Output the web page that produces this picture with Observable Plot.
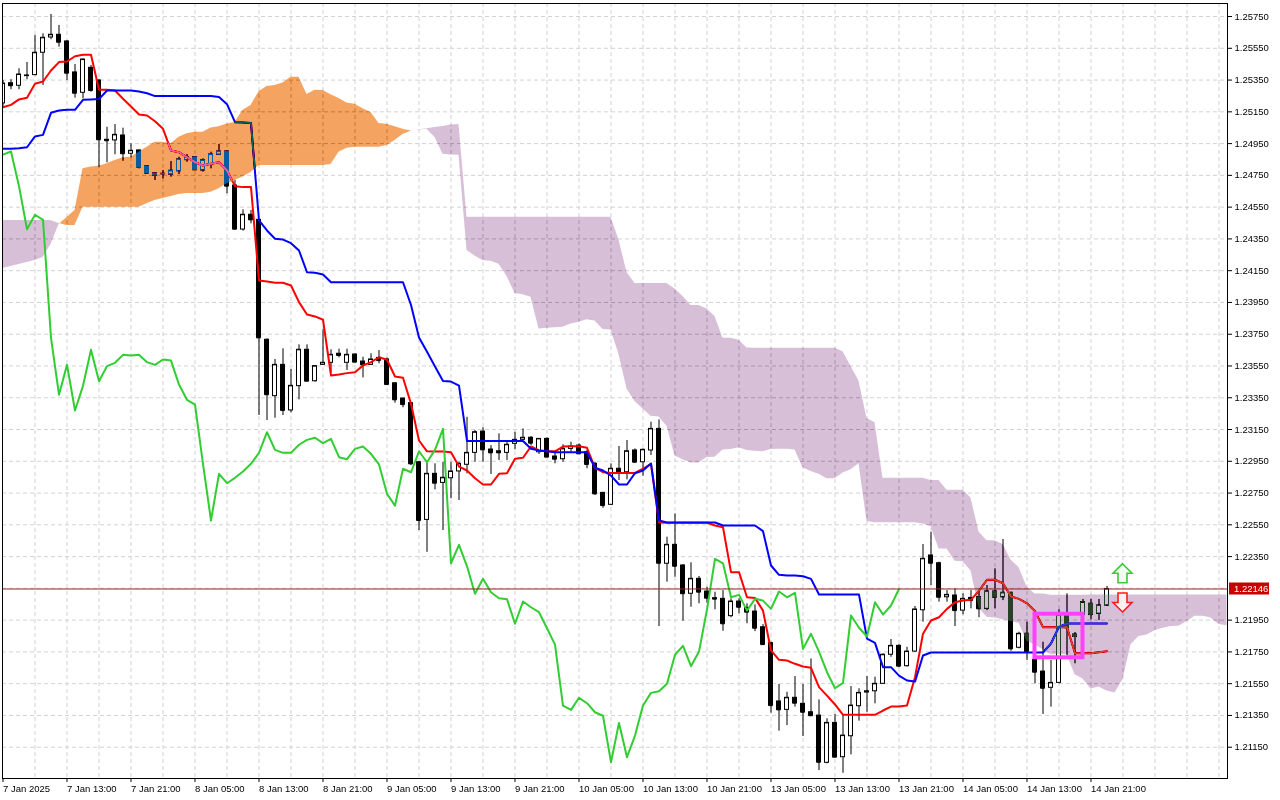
<!DOCTYPE html>
<html><head><meta charset="utf-8">
<script src="https://cdn.jsdelivr.net/npm/d3@7"></script>
<script src="https://cdn.jsdelivr.net/npm/@observablehq/plot@0.6"></script>
<style>html,body{margin:0;padding:0;background:#fff;}#chart{width:1280px;height:800px;}</style>
</head><body><div id="chart"></div>
<script>
// GBPUSD-like H1 candles, bar index 0 = 7 Jan 2025 05:00
const opens = [1.25203,1.25330,1.25314,1.25375,1.25381,1.25522,1.25618,1.25635,1.25593,1.25398,1.25270,1.25427,1.25347,1.24974,1.24970,1.25001,1.24886,1.24907,1.24806,1.24749,1.24758,1.24755,1.24776,1.24846,1.24863,1.24781,1.24819,1.24880,1.24900,1.24686,1.24409,1.24502,1.24470,1.23715,1.23360,1.23557,1.23270,1.23423,1.23652,1.23454,1.23557,1.23570,1.23627,1.23570,1.23622,1.23578,1.23557,1.23601,1.23591,1.23441,1.23345,1.23316,1.22944,1.22581,1.22871,1.22814,1.22843,1.22886,1.22928,1.23003,1.23137,1.23024,1.23013,1.23003,1.23060,1.23085,1.23098,1.23007,1.23091,1.22980,1.22963,1.23028,1.23049,1.23007,1.22934,1.22751,1.22676,1.22903,1.22881,1.23018,1.22944,1.23018,1.23154,1.22305,1.22424,1.22294,1.22116,1.22210,1.22130,1.22088,1.22084,1.21975,1.22067,1.22027,1.22004,1.21905,1.21805,1.21438,1.21385,1.21461,1.21423,1.21370,1.21349,1.21052,1.21303,1.21087,1.21219,1.21408,1.21494,1.21502,1.21549,1.21732,1.21788,1.21660,1.21752,1.22012,1.22357,1.22308,1.22094,1.22105,1.22010,1.22090,1.22094,1.22021,1.22130,1.22094,1.22122,1.21776,1.21864,1.21700,1.21626,1.21524,1.21555,1.21975,1.21859,1.21985,1.22053,1.21990,1.22042];
const highs = [1.25347,1.25352,1.25421,1.25461,1.25631,1.25641,1.25763,1.25694,1.25599,1.25448,1.25484,1.25442,1.25354,1.25053,1.25070,1.25047,1.24949,1.24910,1.24809,1.24764,1.24781,1.24837,1.24864,1.24881,1.24869,1.24854,1.24896,1.24944,1.24903,1.24718,1.24533,1.24529,1.24474,1.23721,1.23591,1.23658,1.23528,1.23683,1.23683,1.23553,1.23778,1.23652,1.23656,1.23656,1.23627,1.23605,1.23627,1.23647,1.23601,1.23443,1.23347,1.23317,1.22945,1.22938,1.22934,1.22944,1.22944,1.22944,1.23227,1.23144,1.23161,1.23049,1.23123,1.23070,1.23133,1.23154,1.23106,1.23091,1.23098,1.23007,1.23054,1.23070,1.23060,1.23018,1.22944,1.22755,1.22934,1.23043,1.23081,1.23028,1.23028,1.23196,1.23211,1.22472,1.22619,1.22300,1.22311,1.22225,1.22157,1.22126,1.22136,1.22084,1.22084,1.22053,1.22046,1.21922,1.21811,1.21545,1.21496,1.21595,1.21545,1.21706,1.21448,1.21329,1.21356,1.21356,1.21532,1.21518,1.21595,1.21591,1.21738,1.21828,1.21796,1.21779,1.22036,1.22426,1.22503,1.22315,1.22136,1.22147,1.22116,1.22136,1.22136,1.22168,1.22273,1.22458,1.22126,1.21874,1.21937,1.21738,1.21811,1.21696,1.22015,1.22116,1.21872,1.22080,1.22080,1.22080,1.22162];
const lows = [1.25184,1.25289,1.25289,1.25352,1.25377,1.25316,1.25604,1.25557,1.25347,1.25236,1.25232,1.25274,1.24802,1.24829,1.24880,1.24839,1.24861,1.24791,1.24762,1.24718,1.24728,1.24739,1.24755,1.24833,1.24781,1.24770,1.24791,1.24875,1.24634,1.24407,1.24399,1.24445,1.23238,1.23207,1.23221,1.23238,1.23255,1.23337,1.23452,1.23448,1.23553,1.23509,1.23601,1.23521,1.23574,1.23475,1.23553,1.23564,1.23427,1.23316,1.23287,1.22923,1.22514,1.22377,1.22770,1.22514,1.22714,1.22703,1.22871,1.22944,1.22944,1.22867,1.22955,1.22955,1.23022,1.23081,1.23049,1.22993,1.22976,1.22934,1.22944,1.23007,1.22993,1.22903,1.22735,1.22654,1.22671,1.22829,1.22833,1.22938,1.22856,1.22986,1.21910,1.22189,1.22220,1.21943,1.22031,1.22053,1.22056,1.22015,1.21880,1.21965,1.21990,1.21927,1.21878,1.21790,1.21364,1.21251,1.21286,1.21402,1.21217,1.21348,1.21003,1.21045,1.21087,1.20986,1.21102,1.21314,1.21370,1.21423,1.21545,1.21716,1.21650,1.21654,1.21748,1.21937,1.22168,1.22063,1.22063,1.21910,1.21983,1.22021,1.21965,1.22010,1.22021,1.22073,1.21754,1.21769,1.21696,1.21549,1.21356,1.21402,1.21549,1.21727,1.21675,1.21948,1.21952,1.21948,1.22036];
const closes = [1.25328,1.25314,1.25385,1.25379,1.25522,1.25616,1.25635,1.25588,1.25393,1.25267,1.25479,1.25284,1.24974,1.24968,1.25005,1.24886,1.24905,1.24802,1.24764,1.24762,1.24760,1.24779,1.24850,1.24863,1.24785,1.24844,1.24881,1.24900,1.24682,1.24411,1.24502,1.24470,1.23727,1.23369,1.23557,1.23270,1.23425,1.23652,1.23454,1.23549,1.23570,1.23620,1.23616,1.23620,1.23574,1.23557,1.23591,1.23584,1.23433,1.23337,1.23307,1.22934,1.22577,1.22871,1.22812,1.22846,1.22886,1.22934,1.23003,1.23133,1.23022,1.23003,1.23003,1.23054,1.23085,1.23098,1.23064,1.23091,1.22976,1.22963,1.23028,1.23043,1.22997,1.22930,1.22745,1.22671,1.22903,1.22881,1.23013,1.22944,1.23022,1.23154,1.22308,1.22424,1.22289,1.22116,1.22210,1.22126,1.22088,1.22082,1.21927,1.22067,1.22031,1.22000,1.21899,1.21796,1.21412,1.21385,1.21461,1.21427,1.21370,1.21348,1.21055,1.21303,1.21087,1.21223,1.21412,1.21492,1.21502,1.21549,1.21732,1.21788,1.21660,1.21752,1.22017,1.22336,1.22308,1.22094,1.22109,1.22010,1.22084,1.22073,1.22021,1.22130,1.22094,1.22122,1.21769,1.21864,1.21752,1.21622,1.21521,1.21555,1.21979,1.21902,1.21847,1.22063,1.21985,1.22042,1.22146];

// Ichimoku lines
const tenkan = [1.25179,1.25194,1.25228,1.25238,1.25327,1.25341,1.25410,1.25463,1.25467,1.25500,1.25509,1.25509,1.25289,1.25289,1.25284,1.25232,1.25184,1.25133,1.25127,1.25091,1.25043,1.24907,1.24896,1.24864,1.24833,1.24812,1.24823,1.24833,1.24781,1.24682,1.24676,1.24676,1.24088,1.24082,1.24074,1.24074,1.24057,1.23952,1.23874,1.23862,1.23841,1.23490,1.23496,1.23505,1.23511,1.23553,1.23574,1.23605,1.23589,1.23484,1.23476,1.23312,1.23081,1.23013,1.23012,1.23012,1.23007,1.22917,1.22892,1.22843,1.22804,1.22804,1.22871,1.22875,1.22966,1.22972,1.23043,1.23018,1.23013,1.23013,1.23043,1.23045,1.23045,1.23035,1.22909,1.22881,1.22877,1.22877,1.22877,1.22877,1.22903,1.22934,1.22565,1.22563,1.22563,1.22563,1.22563,1.22563,1.22563,1.22546,1.22535,1.22252,1.22252,1.22094,1.22090,1.22010,1.21759,1.21700,1.21696,1.21675,1.21658,1.21650,1.21528,1.21475,1.21419,1.21354,1.21354,1.21354,1.21354,1.21354,1.21381,1.21406,1.21406,1.21412,1.21591,1.21864,1.21948,1.21968,1.22021,1.22062,1.22073,1.22078,1.22136,1.22204,1.22204,1.22182,1.22099,1.22084,1.22056,1.22006,1.21905,1.21905,1.21905,1.21905,1.21742,1.21742,1.21742,1.21748,1.21754];
const kijun = [1.24917,1.24917,1.24921,1.24927,1.24995,1.25005,1.25144,1.25158,1.25163,1.25163,1.25226,1.25228,1.25230,1.25284,1.25284,1.25284,1.25284,1.25278,1.25267,1.25249,1.25249,1.25249,1.25249,1.25249,1.25249,1.25249,1.25249,1.25243,1.25198,1.25085,1.25083,1.25079,1.24466,1.24403,1.24351,1.24346,1.24323,1.24277,1.24140,1.24137,1.24126,1.24077,1.24077,1.24077,1.24077,1.24077,1.24077,1.24077,1.24077,1.24077,1.24077,1.23934,1.23729,1.23639,1.23547,1.23455,1.23452,1.23426,1.23078,1.23078,1.23078,1.23078,1.23078,1.23078,1.23078,1.23078,1.23029,1.23018,1.23013,1.23007,1.23007,1.23007,1.23007,1.23007,1.22909,1.22892,1.22860,1.22804,1.22804,1.22875,1.22892,1.22936,1.22577,1.22565,1.22565,1.22565,1.22565,1.22565,1.22565,1.22565,1.22546,1.22546,1.22546,1.22546,1.22546,1.22510,1.22294,1.22235,1.22231,1.22231,1.22226,1.22210,1.22111,1.22111,1.22111,1.22111,1.22111,1.22111,1.21834,1.21807,1.21654,1.21654,1.21601,1.21570,1.21563,1.21727,1.21746,1.21746,1.21746,1.21746,1.21746,1.21746,1.21746,1.21746,1.21746,1.21746,1.21746,1.21746,1.21746,1.21746,1.21746,1.21803,1.21908,1.21929,1.21929,1.21929,1.21929,1.21929,1.21929];
const spanA = [1.24164,1.24176,1.24189,1.24201,1.24214,1.24233,1.24315,1.24441,1.24485,1.24529,1.24791,1.24802,1.24808,1.24823,1.24844,1.24861,1.24864,1.24896,1.24927,1.24959,1.24959,1.24949,1.24990,1.25012,1.25022,1.25022,1.25048,1.25056,1.25074,1.25083,1.25160,1.25190,1.25277,1.25310,1.25315,1.25332,1.25368,1.25368,1.25259,1.25286,1.25284,1.25258,1.25234,1.25206,1.25197,1.25170,1.25146,1.25077,1.25072,1.25056,1.25041,1.25030,1.25036,1.25041,1.24989,1.24883,1.24879,1.24877,1.24277,1.24242,1.24212,1.24210,1.24190,1.24114,1.24007,1.23999,1.23983,1.23783,1.23787,1.23791,1.23794,1.23815,1.23826,1.23841,1.23833,1.23780,1.23777,1.23623,1.23405,1.23326,1.23279,1.23233,1.23229,1.23171,1.22984,1.22960,1.22940,1.22940,1.22974,1.22976,1.23021,1.23024,1.23035,1.23018,1.23013,1.23010,1.23025,1.23026,1.23026,1.23021,1.22909,1.22886,1.22869,1.22840,1.22840,1.22876,1.22897,1.22935,1.22571,1.22563,1.22563,1.22563,1.22563,1.22563,1.22563,1.22555,1.22540,1.22398,1.22398,1.22320,1.22318,1.22260,1.22026,1.21968,1.21963,1.21953,1.21942,1.21930,1.21817,1.21793,1.21765,1.21732,1.21732,1.21732,1.21606,1.21580,1.21517,1.21529,1.21504,1.21491,1.21577,1.21795,1.21847,1.21857,1.21883,1.21899,1.21910,1.21912,1.21941,1.21975,1.21975,1.21964,1.21922,1.21915];
const spanB = [1.24466,1.24466,1.24466,1.24466,1.24466,1.24466,1.24466,1.24447,1.24434,1.24434,1.24550,1.24550,1.24550,1.24550,1.24550,1.24550,1.24550,1.24550,1.24571,1.24592,1.24604,1.24617,1.24630,1.24636,1.24636,1.24636,1.24644,1.24666,1.24697,1.24718,1.24739,1.24768,1.24812,1.24812,1.24812,1.24812,1.24812,1.24812,1.24812,1.24812,1.24812,1.24819,1.24896,1.24921,1.24927,1.24927,1.24927,1.24927,1.24938,1.24970,1.25007,1.25028,1.25037,1.25043,1.25051,1.25058,1.25067,1.25070,1.24487,1.24487,1.24487,1.24487,1.24487,1.24487,1.24487,1.24487,1.24487,1.24487,1.24487,1.24487,1.24487,1.24487,1.24487,1.24487,1.24487,1.24487,1.24487,1.24343,1.24139,1.24070,1.24070,1.24070,1.24070,1.24070,1.24035,1.23988,1.23931,1.23931,1.23909,1.23862,1.23724,1.23724,1.23712,1.23663,1.23661,1.23661,1.23661,1.23661,1.23661,1.23661,1.23661,1.23661,1.23661,1.23661,1.23661,1.23639,1.23547,1.23455,1.23219,1.23192,1.22843,1.22843,1.22843,1.22843,1.22843,1.22843,1.22829,1.22829,1.22768,1.22768,1.22767,1.22719,1.22505,1.22449,1.22449,1.22426,1.22329,1.22282,1.22159,1.22115,1.22115,1.22107,1.22107,1.22107,1.22107,1.22107,1.22108,1.22108,1.22108,1.22108,1.22108,1.22108,1.22108,1.22108,1.22108,1.22108,1.22108,1.22108,1.22108,1.22108,1.22108,1.22108,1.22108,1.22108];
const chikouShift = 26;

// Axis labels (1.22150 is hidden behind the current-price label in the reference)
const xLabelIdx = [0,8,16,24,32,40,48,56,64,72,80,88,96,104,112,120,128,136];
const xLabels = ["7 Jan 2025","7 Jan 13:00","7 Jan 21:00","8 Jan 05:00","8 Jan 13:00","8 Jan 21:00","9 Jan 05:00","9 Jan 13:00","9 Jan 21:00","10 Jan 05:00","10 Jan 13:00","10 Jan 21:00","13 Jan 05:00","13 Jan 13:00","13 Jan 21:00","14 Jan 05:00","14 Jan 13:00","14 Jan 21:00"];
const yGrid = [1.21150,1.21350,1.21550,1.21750,1.21950,1.22150,1.22350,1.22550,1.22750,1.22950,1.23150,1.23350,1.23550,1.23750,1.23950,1.24150,1.24350,1.24550,1.24750,1.24950,1.25150,1.25350,1.25550,1.25750];
const yTicks = [1.21150,1.21350,1.21550,1.21750,1.21950,1.22350,1.22550,1.22750,1.22950,1.23150,1.23350,1.23550,1.23750,1.23950,1.24150,1.24350,1.24550,1.24750,1.24950,1.25150,1.25350,1.25550,1.25750];

// Annotations
const boxBars = [129, 135];
const boxPrices = [1.21987, 1.21713];
const arrowBar = [140, 140];
const arrowPrices = [1.22242, 1.22058];
const arrowDir = [1, -1];

// ---- tables ----
const bars = opens.map((o, i) => ({i, o, h: highs[i], l: lows[i], c: closes[i], up: closes[i] >= opens[i]}));
const tenkanRows = tenkan.map((v, i) => ({i, v}));
const kijunRows = kijun.map((v, i) => ({i, v}));
const chikouRows = closes.slice(chikouShift).map((v, i) => ({i, v}));
const cloud = spanA.map((a, i) => ({i, a, b: spanB[i]}));
const labelMap = new Map(xLabelIdx.map((d, j) => [d, xLabels[j]]));
const gridIdx = d3.range(4, 153, 4);
const fmt5 = d3.format(".5f");
const lastPrice = closes[closes.length - 1];

const priceLabel = (index, scales, values, dims) => {
  const yy = scales.y(lastPrice);
  const x0 = dims.width - dims.marginRight + 2;
  const g = d3.create("svg:g");
  g.append("rect").attr("x", x0).attr("y", yy - 6).attr("width", 40).attr("height", 12).attr("fill", "#c80000");
  g.append("text").attr("x", x0 + 5).attr("y", yy).attr("dy", "0.34em").attr("fill", "white")
    .attr("text-anchor", "start")
    .attr("font-size", "9.5px").attr("font-family", "'Liberation Sans', Arial, sans-serif").text(fmt5(lastPrice));
  return g.node();
};

// hollow signal arrows positioned through the scales
const arrowMarks = (index, scales) => {
  const g = d3.create("svg:g");
  const shape = [[0,-9.5],[9.5,0],[4.5,0],[4.5,9.5],[-4.5,9.5],[-4.5,0],[-9.5,0]];
  arrowDir.forEach((dir, j) => {
    const cx = scales.x(arrowBar[j]), cy = scales.y(arrowPrices[j]);
    const pts = shape.map(([dx, dy]) => `${cx + dx},${cy + dir * dy}`).join(" ");
    g.append("polygon").attr("points", pts)
      .attr("fill", dir > 0 ? "#f2fff0" : "#fff0f0")
      .attr("stroke", dir > 0 ? "#3cc83c" : "#ff1a1a")
      .attr("stroke-width", 1.6).attr("stroke-linejoin", "miter");
  });
  return g.node();
};

const chart = Plot.plot({
  width: 1280, height: 800,
  marginLeft: 2, marginRight: 53, marginTop: 3, marginBottom: 22,
  style: {background: "white", fontFamily: "'Liberation Sans', Arial, sans-serif", fontSize: "9.5px", color: "black", overflow: "visible"},
  x: {type: "linear", domain: [-0.0625, 153.0625]},
  y: {type: "linear", domain: [1.20953, 1.25832]},
  marks: [
    Plot.frame({fill: "white", stroke: "none"}),
    Plot.ruleX(gridIdx, {stroke: "#d2d2d2", strokeDasharray: "4,3"}),
    Plot.ruleY(yGrid, {stroke: "#d2d2d2", strokeDasharray: "4,3"}),
    // candles
    Plot.ruleX(bars, {x: "i", y1: "l", y2: "h", stroke: "black", clip: true}),
    Plot.rect(bars, {x1: d => d.i - 0.25, x2: d => d.i + 0.25, y1: "o", y2: "c", fill: d => d.up ? "white" : "black", stroke: "black", strokeWidth: 1, clip: true}),
    Plot.ruleY(bars, {x1: d => d.i - 0.25, x2: d => d.i + 0.25, y: "c", stroke: "black", clip: true}),
    // Tenkan / Kijun
    Plot.line(tenkanRows, {x: "i", y: "v", stroke: "#ff0000", strokeWidth: 2}),
    Plot.line(kijunRows, {x: "i", y: "v", stroke: "#0000ff", strokeWidth: 2}),
    // Kumo (drawn in difference mode like the terminal does)
    Plot.areaY(cloud.filter(d => d.i <= 7), {x: "i", y1: "a", y2: "b", fill: "rgb(39,64,39)", mixBlendMode: "difference"}),
    Plot.areaY(cloud.filter(d => d.i >= 7 && d.i <= 51), {x: "i", y1: "a", y2: "b", fill: "rgb(11,91,159)", mixBlendMode: "difference"}),
    Plot.areaY(cloud.filter(d => d.i >= 51), {x: "i", y1: "a", y2: "b", fill: "rgb(39,64,39)", mixBlendMode: "difference"}),
    // Chikou
    Plot.line(chikouRows, {x: "i", y: "v", stroke: "#32cd32", strokeWidth: 2}),
    // current price line
    Plot.ruleY([lastPrice], {stroke: "#a52020", strokeWidth: 1}),
    // box + arrows
    Plot.rect([0], {x1: () => boxBars[0], x2: () => boxBars[1], y1: () => boxPrices[0], y2: () => boxPrices[1], fill: "none", stroke: "#ff40ff", strokeWidth: 4}),
    arrowMarks,
    Plot.frame({stroke: "black"}),
    Plot.axisY(yTicks, {anchor: "right", tickSize: 4, tickPadding: 3, tickFormat: fmt5, label: null, stroke: "black"}),
    Plot.axisX(xLabelIdx, {anchor: "bottom", tickSize: 4, tickPadding: 3, tickFormat: d => labelMap.get(d), textAnchor: "start", label: null, stroke: "black"}),
    priceLabel
  ]
});
document.getElementById("chart").appendChild(chart);
</script>
</body></html>
